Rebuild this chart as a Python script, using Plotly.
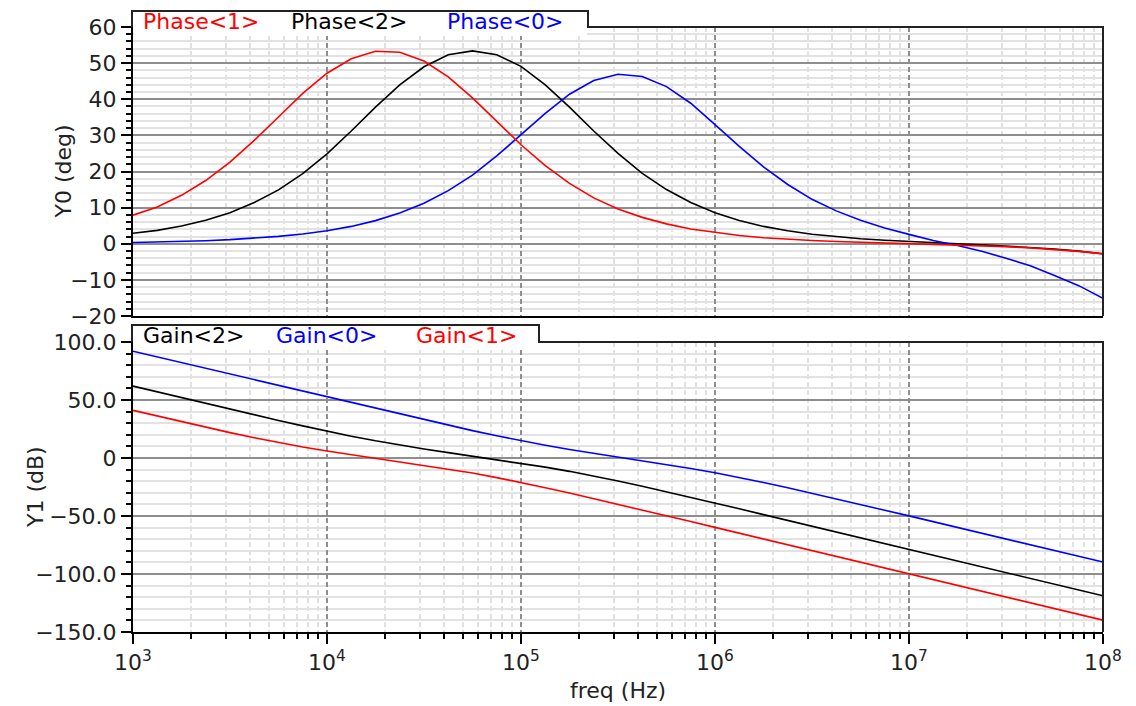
import plotly.graph_objects as go

# Frequency sweep (Hz), eight points per decade
freq = [1.000e3, 1.334e3, 1.778e3, 2.371e3, 3.162e3, 4.217e3, 5.623e3, 7.499e3,
        1.000e4, 1.334e4, 1.778e4, 2.371e4, 3.162e4, 4.217e4, 5.623e4, 7.499e4,
        1.000e5, 1.334e5, 1.778e5, 2.371e5, 3.162e5, 4.217e5, 5.623e5, 7.499e5,
        1.000e6, 1.334e6, 1.778e6, 2.371e6, 3.162e6, 4.217e6, 5.623e6, 7.499e6,
        1.000e7, 1.334e7, 1.778e7, 2.371e7, 3.162e7, 4.217e7, 5.623e7, 7.499e7,
        1.000e8]

# Phase (deg)
phase_1 = [7.9, 10.2, 13.4, 17.5, 22.6, 28.6, 35.1, 41.6,
           47.2, 51.2, 53.3, 53.0, 50.6, 46.2, 40.4, 33.9,
           27.4, 21.6, 16.7, 12.7, 9.6, 7.3, 5.5, 4.1,
           3.1, 2.3, 1.65, 1.23, 0.9, 0.61, 0.4, 0.2,
           0.05, -0.15, -0.3, -0.55, -0.8, -1.14, -1.55, -2.1,
           -2.8]
phase_2 = [2.9, 3.7, 4.9, 6.5, 8.6, 11.4, 14.9, 19.4,
           24.9, 31.2, 37.8, 44.0, 49.0, 52.3, 53.4, 52.3,
           49.1, 44.0, 37.8, 31.2, 25.0, 19.5, 15.0, 11.4,
           8.6, 6.45, 4.8, 3.6, 2.65, 1.94, 1.4, 0.95,
           0.58, 0.27, -0.02, -0.31, -0.63, -1.0, -1.45, -2.03,
           -2.77]
phase_0 = [0.36, 0.48, 0.64, 0.85, 1.14, 1.52, 2.03, 2.70,
           3.6, 4.8, 6.4, 8.5, 11.2, 14.7, 19.0, 24.3,
           30.1, 36.1, 41.4, 45.2, 46.9, 46.3, 43.5, 38.9,
           33.0, 26.95, 21.3, 16.4, 12.3, 9.1, 6.5, 4.35,
           2.6, 0.9, -0.5, -2.1, -4.0, -6.1, -8.8, -11.6,
           -15.1]

# Gain (dB)
gain_2 = [62.0, 57.0, 52.0, 47.1, 42.1, 37.2, 32.4, 27.7,
          23.1, 18.8, 14.8, 11.1, 7.8, 4.6, 1.6, -1.4,
          -4.5, -7.9, -11.5, -15.5, -19.9, -24.4, -29.1, -34.0,
          -38.9, -43.8, -48.8, -53.8, -58.8, -63.8, -68.8, -73.8,
          -78.8, -83.8, -88.8, -93.8, -98.8, -103.8, -108.8, -113.8,
          -118.8]
gain_0 = [92.0, 87.1, 82.1, 77.2, 72.3, 67.3, 62.4, 57.4,
          52.5, 47.6, 42.7, 37.8, 33.0, 28.2, 23.6, 19.1,
          14.9, 11.0, 7.3, 4.0, 0.9, -2.3, -5.4, -9.0,
          -12.7, -16.7, -21.1, -25.7, -30.4, -35.2, -40.0, -45.0,
          -49.9, -54.8, -59.7, -64.7, -69.7, -74.6, -79.5, -84.6,
          -89.7]
gain_1 = [41.1, 36.2, 31.3, 26.5, 21.9, 17.5, 13.3, 9.5,
          6.1, 2.9, -0.2, -3.2, -6.3, -9.5, -13.0, -16.9,
          -21.1, -25.6, -30.2, -35.0, -39.9, -44.8, -49.8, -54.8,
          -59.8, -64.8, -69.8, -74.8, -79.8, -84.8, -89.8, -94.8,
          -99.8, -104.8, -109.8, -114.8, -119.8, -124.8, -129.8, -134.8,
          -139.8]

# Axis ticks
x_decades = [1e3, 1e4, 1e5, 1e6, 1e7, 1e8]
x_decade_text = ["10<sup>3</sup>", "10<sup>4</sup>", "10<sup>5</sup>",
                 "10<sup>6</sup>", "10<sup>7</sup>", "10<sup>8</sup>"]
x_minor = [m * d for d in [1e3, 1e4, 1e5, 1e6, 1e7] for m in range(2, 10)]
y0_ticks = [-20, -10, 0, 10, 20, 30, 40, 50, 60]
y0_text = ["\u221220", "\u221210", "0", "10", "20", "30", "40", "50", "60"]
y1_ticks = [-150, -100, -50, 0, 50, 100]
y1_text = ["\u2212150.0", "\u2212100.0", "\u221250.0", "0", "50.0", "100.0"]

RED, BLACK, BLUE = "#ff0000", "#000000", "#0000ff"
FONT = "DejaVu Sans"

# Page geometry (pixels)
W, H = 1136, 706
L, R, T, B = 133, 1103, 27, 632
TOP_BOTTOM = 316
BOT_TOP = 342


def px(xp):
    return (xp - L) / (R - L)


def py(yp):
    return (B - yp) / (B - T)


fig = go.Figure()

line_w = 1.6
for ys, color, xa, ya in [(phase_2, BLACK, "x", "y"), (phase_0, BLUE, "x", "y"),
                          (phase_1, RED, "x", "y"), (gain_2, BLACK, "x2", "y2"),
                          (gain_0, BLUE, "x2", "y2"), (gain_1, RED, "x2", "y2")]:
    fig.add_trace(go.Scatter(x=freq, y=ys, mode="lines", line=dict(color=color, width=line_w),
                             xaxis=xa, yaxis=ya, showlegend=False, hoverinfo="skip"))

GRID_MAJOR = "#8e8e8e"
GRID_MINOR = "#e2e2e2"
tickfont = dict(family=FONT, size=22, color="#222222")

x_common = dict(
    type="log", range=[3, 8], tickmode="array", tickvals=x_decades,
    showgrid=True, gridcolor=GRID_MAJOR, gridwidth=1.5, griddash="5px,3px",
    zeroline=False, showline=True, linecolor="#000000", linewidth=2,
)
x_minor_top = dict(tickmode="array", tickvals=x_minor, showgrid=True,
                   gridcolor=GRID_MINOR, gridwidth=2, ticks="")
x_minor_bot = dict(tickmode="array", tickvals=x_minor, showgrid=True,
                   gridcolor=GRID_MINOR, gridwidth=2, ticks="outside",
                   ticklen=5, tickwidth=2, tickcolor="#000000")

y_common = dict(
    tickmode="array", showgrid=True, gridcolor=GRID_MAJOR, gridwidth=2,
    zeroline=False, showline=True, linecolor="#000000", linewidth=2,
    ticks="outside", ticklen=10, tickwidth=2, tickcolor="#000000",
    tickfont=tickfont,
)

fig.update_layout(
    width=W, height=H,
    margin=dict(l=L, r=W - R, t=T, b=H - B, pad=0),
    paper_bgcolor="white", plot_bgcolor="white",
    font=dict(family=FONT, size=22, color="#222222"),
    xaxis=dict(domain=[0, 1], anchor="y", showticklabels=False, ticks="",
               minor=x_minor_top, **x_common),
    xaxis2=dict(domain=[0, 1], anchor="y2", ticktext=x_decade_text,
                ticks="outside", ticklen=10, tickwidth=2, tickcolor="#000000",
                tickfont=tickfont, minor=x_minor_bot, **x_common),
    yaxis=dict(domain=[py(TOP_BOTTOM), 1], anchor="x", range=[-20, 60],
               tickvals=y0_ticks, ticktext=y0_text,
               minor=dict(dtick=2, tick0=0, showgrid=True, gridcolor=GRID_MINOR, gridwidth=2,
                          ticks="outside", ticklen=5, tickwidth=2, tickcolor="#000000"),
               **y_common),
    yaxis2=dict(domain=[0, py(BOT_TOP)], anchor="x2", range=[-150, 100],
                tickvals=y1_ticks, ticktext=y1_text,
                minor=dict(dtick=10, tick0=0, showgrid=True, gridcolor=GRID_MINOR, gridwidth=2,
                           ticks="outside", ticklen=5, tickwidth=2, tickcolor="#000000"),
                **y_common),
)

# Label tabs and panel frames
FRAME = "#222222"


def tab_shapes(tab_top, tab_right, panel_top, panel_bottom, box_bottom):
    return [
        dict(type="rect", xref="paper", yref="paper", layer="above",
             x0=px(L + 1.5), x1=px(tab_right - 1), y0=py(box_bottom), y1=py(tab_top + 1),
             fillcolor="white", line=dict(width=0)),
        dict(type="path", xref="paper", yref="paper", layer="above",
             path=(f"M {px(L - 1)},{py(panel_top)} L {px(L - 1)},{py(tab_top)} "
                   f"L {px(tab_right)},{py(tab_top)} L {px(tab_right)},{py(panel_top)} "
                   f"L {px(R)},{py(panel_top)} L {px(R)},{py(panel_bottom)}"),
             line=dict(color=FRAME, width=2)),
    ]


shapes = tab_shapes(11, 588, T, TOP_BOTTOM, 36) + tab_shapes(325, 539, BOT_TOP, B, 349)
fig.update_layout(shapes=shapes)

# Series labels inside the tabs
labels = [
    ("Phase&lt;1&gt;", RED, 142, 21.5),
    ("Phase&lt;2&gt;", BLACK, 290, 21.5),
    ("Phase&lt;0&gt;", BLUE, 446, 21.5),
    ("Gain&lt;2&gt;", BLACK, 142, 335.5),
    ("Gain&lt;0&gt;", BLUE, 275, 335.5),
    ("Gain&lt;1&gt;", RED, 415, 335.5),
]
for text, color, xpix, ypix in labels:
    fig.add_annotation(text=text, xref="paper", yref="paper", x=px(xpix), y=py(ypix),
                       xanchor="left", yanchor="middle", showarrow=False,
                       font=dict(family=FONT, size=22, color=color), borderpad=0)

# Axis titles
titles = [
    ("Y0 (deg)", 63, (T + TOP_BOTTOM) / 2, -90),
    ("Y1 (dB)", 35, (BOT_TOP + B) / 2, -90),
    ("freq (Hz)", (L + R) / 2, 690, 0),
]
for text, xpix, ypix, ang in titles:
    fig.add_annotation(text=text, xref="paper", yref="paper", x=px(xpix), y=py(ypix),
                       xanchor="center", yanchor="middle", showarrow=False, textangle=ang,
                       font=dict(family=FONT, size=22, color="#222222"))

fig.write_html("out.html")
